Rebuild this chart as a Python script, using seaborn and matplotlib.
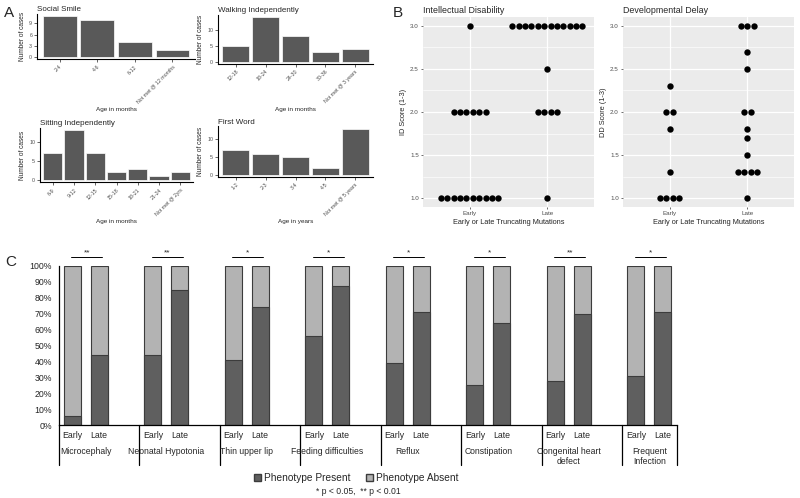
import matplotlib
matplotlib.use("Agg")
import matplotlib.pyplot as plt
import matplotlib.transforms as mtransforms
from matplotlib.patches import Patch
import seaborn as sns
import numpy as np
import pandas as pd

W, H = 800, 498

# ---- panel A: milestone histograms
smile_cats = ["2-4", "4-6", "6-12", "Not met @ 12 months"]
smile_vals = [11, 10, 4, 2]
walk_cats = ["12-18", "18-24", "24-30", "30-36", "Not met @ 3 years"]
walk_vals = [5, 14, 8, 3, 4]
sit_cats = ["6-9", "9-12", "12-15", "15-18", "18-21", "21-24", "Not met @ 2yrs"]
sit_vals = [7, 13, 7, 2, 3, 1, 2]
word_cats = ["1-2", "2-3", "3-4", "4-5", "Not met @ 5 years"]
word_vals = [7, 6, 5, 2, 13]

# ---- panel B: ID / DD scores
groups = ["Early", "Late"]
id_early = [3.0] + [2.0] * 6 + [1.0] * 10
id_late = [3.0] * 12 + [2.5] + [2.0] * 4 + [1.0]
dd_early = [2.3, 2.0, 2.0, 1.8, 1.3, 1.0, 1.0, 1.0, 1.0]
dd_late = [3.0, 3.0, 3.0, 2.7, 2.5, 2.0, 2.0, 1.8, 1.7, 1.5, 1.3, 1.3, 1.3, 1.3, 1.0]

# ---- panel C: phenotype present (%)
phenotypes = ["Microcephaly", "Neonatal Hypotonia", "Thin upper lip",
              "Feeding difficulties", "Reflux", "Constipation",
              "Congenital heart\ndefect", "Frequent\nInfection"]
present_early = [6, 44, 41, 56, 39, 25, 28, 31]
present_late = [44, 85, 74, 87, 71, 64, 70, 71]
signif = ["**", "**", "*", "*", "*", "*", "**", "*"]

sns.set_style("white")
plt.rcParams["font.family"] = ["Liberation Sans", "DejaVu Sans"]

fig = plt.figure(figsize=(8, 4.98), dpi=100)


def px_axes(left, top, right, bottom):
    return fig.add_axes([left / W, 1 - bottom / H, (right - left) / W, (bottom - top) / H])


def hist_panel(box, title, cats, vals, yticks, xlabel, xlabel_y):
    ax = px_axes(*box)
    df = pd.DataFrame({"age": cats, "n": vals})
    sns.barplot(data=df, x="age", y="n", order=cats, color="#595959", saturation=1,
                edgecolor="white", linewidth=0.5, width=0.9, ax=ax)
    top = max(vals)
    ax.set_ylim(-0.05 * top, 1.05 * top)
    ax.set_xlim(-0.6, len(cats) - 0.4)
    ax.set_yticks(yticks)
    ax.set_xticks(range(len(cats)))
    ax.set_xticklabels(cats, rotation=45, ha="right", rotation_mode="anchor")
    ax.tick_params(labelsize=3.8, labelcolor="#4d4d4d", length=2, width=0.5,
                   pad=1.5, left=True, bottom=True)
    for s in ["top", "right"]:
        ax.spines[s].set_visible(False)
    for s in ["left", "bottom"]:
        ax.spines[s].set_linewidth(0.8)
        ax.spines[s].set_color("black")
    ax.set_title(title, loc="left", fontsize=5.8, pad=2)
    ax.set_ylabel("Number of cases", fontsize=4.7, labelpad=2)
    ax.set_xlabel(xlabel, fontsize=4.6)
    ax.xaxis.set_label_coords(0.5, -(xlabel_y - box[3]) / (box[3] - box[1]))
    return ax


hist_panel((37, 13.7, 195, 59.4), "Social Smile", smile_cats, smile_vals,
           [0, 3, 6, 9], "Age in months", 107)
hist_panel((218, 15.1, 373, 63.9), "Walking Independently", walk_cats, walk_vals,
           [0, 5, 10], "Age in months", 107)
hist_panel((40, 127.7, 193, 182.5), "Sitting Independently", sit_cats, sit_vals,
           [0, 5, 10], "Age in months", 219)
hist_panel((218, 126.3, 373, 177.3), "First Word", word_cats, word_vals,
           [0, 5, 10], "Age in years", 219)


def dot_panel(box, title, early, late, ylabel):
    ax = px_axes(*box)
    rows = []
    step = 0.082
    for gi, vals in enumerate([early, late]):
        counts = pd.Series(vals).value_counts(sort=False)
        for v, n in counts.items():
            for k in range(n):
                rows.append({"x": gi + (k - (n - 1) / 2) * step, "y": v})
    df = pd.DataFrame(rows)
    ax.set_facecolor("#EBEBEB")
    ax.set_axisbelow(True)
    ax.set_yticks([1.25, 1.75, 2.25, 2.75], minor=True)
    ax.grid(True, which="major", color="white", linewidth=0.9)
    ax.grid(True, which="minor", axis="y", color="white", linewidth=0.45)
    sns.scatterplot(data=df, x="x", y="y", color="black", s=21, linewidth=0, ax=ax)
    ax.set_xlim(-0.6, 1.6)
    ax.set_ylim(0.9, 3.1)
    ax.set_xticks([0, 1])
    ax.set_xticklabels(groups)
    ax.set_yticks([1.0, 1.5, 2.0, 2.5, 3.0])
    ax.set_yticklabels(["1.0", "1.5", "2.0", "2.5", "3.0"])
    ax.tick_params(which="major", labelsize=4.5, labelcolor="#4d4d4d", length=1.5,
                   width=0.5, color="#333333", pad=1.5, left=True, bottom=True)
    ax.tick_params(which="minor", length=0)
    for s in ax.spines.values():
        s.set_visible(False)
    ax.set_title(title, loc="left", fontsize=6.4, pad=3)
    ax.set_ylabel(ylabel, fontsize=5.3, labelpad=2)
    ax.set_xlabel("Early or Late Truncating Mutations", fontsize=5.3, labelpad=2)
    return ax


dot_panel((423, 17, 594, 207), "Intellectual Disability", id_early, id_late, "ID Score (1-3)")
dot_panel((623, 17, 794, 207), "Developmental Delay", dd_early, dd_late, "DD Score (1-3)")

# ---- panel C
boxc = (59, 265.7, 676.7, 425.3)
axc = px_axes(*boxc)
slots = []
for p in phenotypes:
    slots += [p + "|Early", p + "|Late", p + "|gap"]
dfc = pd.DataFrame({
    "slot": [p + "|" + t for p in phenotypes for t in groups],
    "present": [v for pair in zip(present_early, present_late) for v in pair],
})
dfc["total"] = 100
sns.barplot(data=dfc, x="slot", y="total", order=slots, color="#b3b3b3", saturation=1,
            edgecolor="#3c3c3c", linewidth=0.8, width=0.63, ax=axc)
sns.barplot(data=dfc, x="slot", y="present", order=slots, color="#5f5f5f", saturation=1,
            edgecolor="#3c3c3c", linewidth=0.8, width=0.63, ax=axc)
axc.set_xlim(-0.5, 22.52)
axc.set_ylim(0, 100)
axc.set_yticks(range(0, 101, 10))
axc.set_yticklabels([f"{v}%" for v in range(0, 101, 10)])
axc.tick_params(axis="y", labelsize=6.3, length=0, pad=5)
axc.tick_params(axis="x", length=0, labelbottom=False)
axc.set_xlabel("")
axc.set_ylabel("")
for s in ["top", "right"]:
    axc.spines[s].set_visible(False)
for s in ["left", "bottom"]:
    axc.spines[s].set_linewidth(0.9)
    axc.spines[s].set_color("black")

trans = mtransforms.blended_transform_factory(axc.transData, axc.transAxes)
hc = boxc[3] - boxc[1]
bounds = [3 * g - 0.5 for g in range(len(phenotypes))] + [22.52]
for b in bounds:
    axc.plot([b, b], [0, -(465 - boxc[3]) / hc], color="black", lw=0.9,
             transform=trans, clip_on=False)
for g, p in enumerate(phenotypes):
    axc.text(3 * g, -(435.7 - boxc[3]) / hc, "Early", transform=trans,
             ha="center", va="center", fontsize=6.3)
    axc.text(3 * g + 1, -(435.7 - boxc[3]) / hc, "Late", transform=trans,
             ha="center", va="center", fontsize=6.3)
    axc.text(3 * g + 0.5, -(447 - boxc[3]) / hc, p, transform=trans,
             ha="center", va="top", fontsize=6.2, linespacing=1.1)
    axc.plot([3 * g - 0.05, 3 * g + 1.12], [105.3, 105.3], color="black", lw=0.7,
             clip_on=False)
    axc.text(3 * g + 0.53, 105.8, signif[g], ha="center", va="bottom", fontsize=6,
             clip_on=False)

fig.legend(handles=[Patch(facecolor="#5f5f5f", edgecolor="#3c3c3c", label="Phenotype Present"),
                    Patch(facecolor="#b3b3b3", edgecolor="#3c3c3c", label="Phenotype Absent")],
           loc="center", bbox_to_anchor=(356 / W, 1 - 478 / H), ncol=2, frameon=False,
           fontsize=7.3, handlelength=0.7, handleheight=0.7, handletextpad=0.3,
           columnspacing=1.5)
fig.text(358 / W, 1 - 491 / H, "* p < 0.05,  ** p < 0.01", ha="center", va="center",
         fontsize=6.2)

fig.text(4 / W, 1 - 13 / H, "A", fontsize=11, va="center")
fig.text(393 / W, 1 - 13 / H, "B", fontsize=11, va="center")
fig.text(5 / W, 1 - 262 / H, "C", fontsize=11, va="center")

fig.savefig("out.png", dpi=100)
